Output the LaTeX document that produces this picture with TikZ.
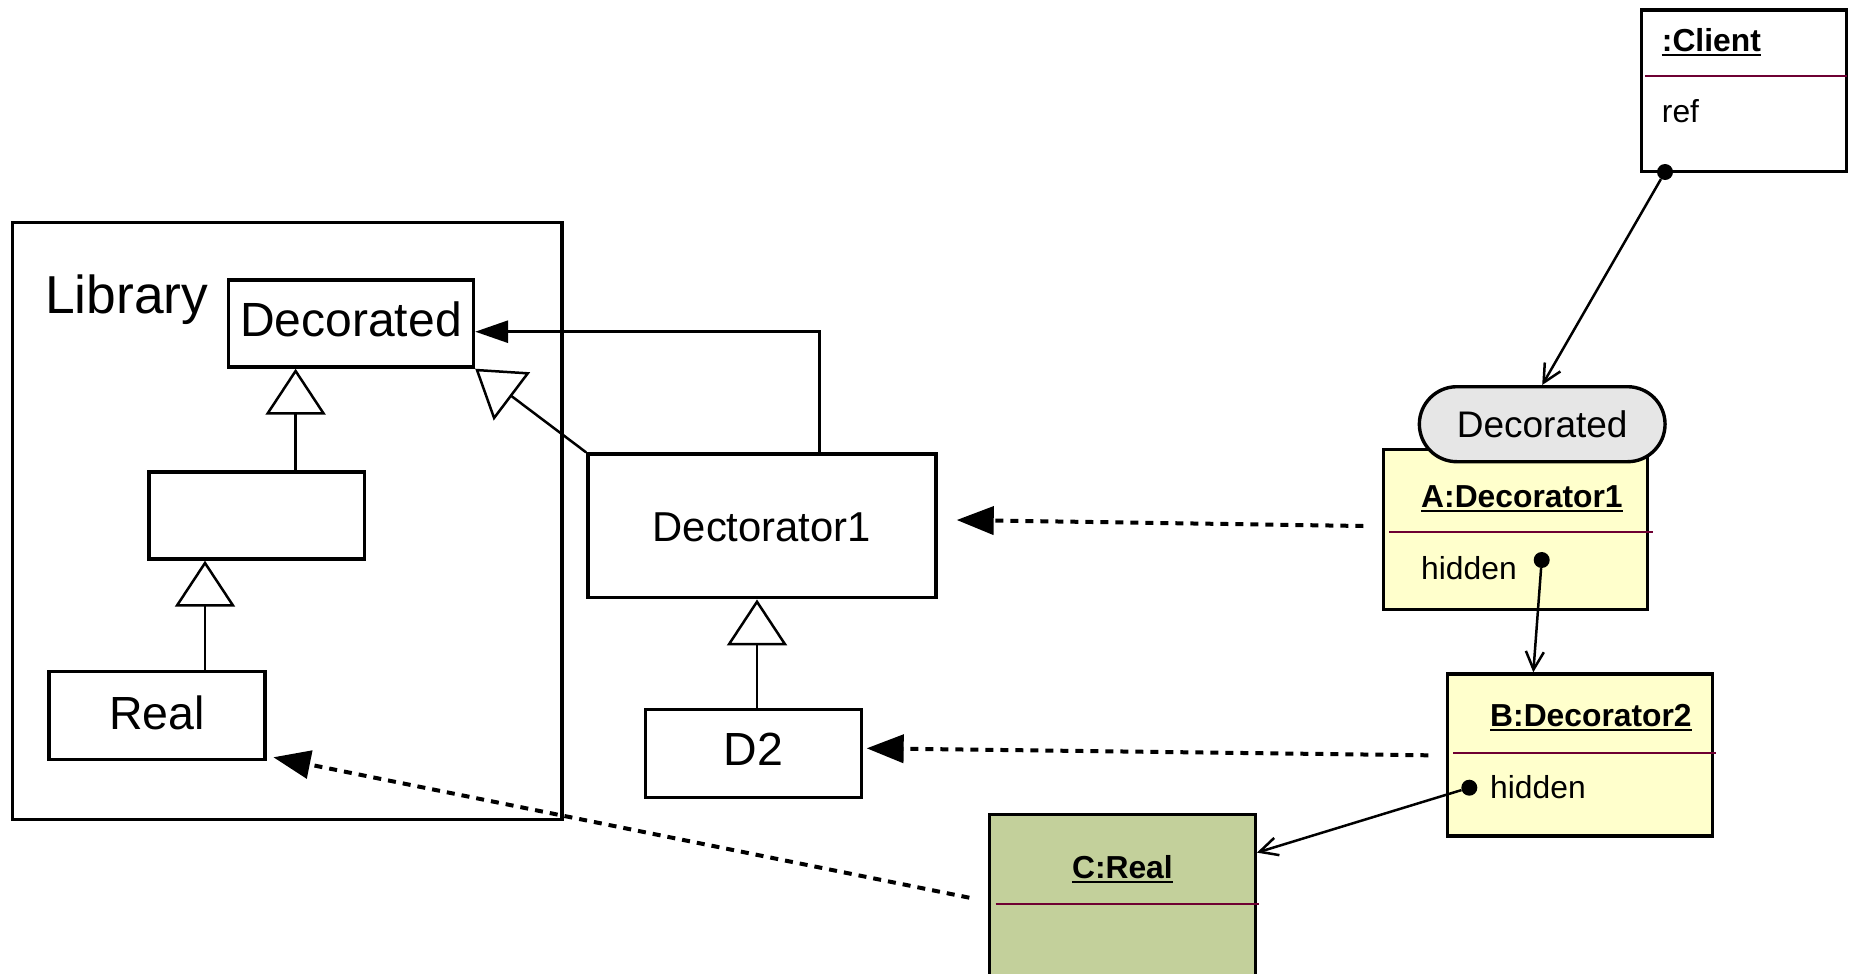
\documentclass[tikz,border=0pt]{standalone}
\usepackage{fontspec}
\setmainfont{Liberation Sans}
\usetikzlibrary{arrows.meta,calc}
\definecolor{objyellow}{RGB}{255,255,204}
\definecolor{objgreen}{RGB}{195,208,155}
\definecolor{pillgray}{RGB}{230,230,230}
\definecolor{divcol}{RGB}{110,0,50}
\begin{document}
\begin{tikzpicture}[x=1pt,y=-1pt,
  umlbox/.style={draw, line width=3.4pt, fill=white, inner sep=0pt},
  libframe/.style={draw, line width=3.5pt, inner sep=0pt},
  objbox/.style={draw, line width=3.4pt, inner sep=0pt},
  gen/.style={line width=2.5pt, -{Triangle[length=46pt,width=60pt,fill=white]}},
  assoc/.style={line width=3pt, -{Triangle[length=33pt,width=22pt]}},
  dep/.style={line width=4pt, dash pattern=on 8pt off 7pt, -{Triangle[length=37pt,width=28pt]}},
  link/.style={line width=2.5pt, -{Straight Barb[length=18pt,width=18pt]}},
  dotnode/.style={circle, fill=black, inner sep=0pt, minimum size=16pt},
  divider/.style={draw=divcol, line width=2pt},
  objtitle/.style={font=\bfseries\fontsize{31.8}{36}\selectfont, anchor=base west, inner sep=0pt},
  objattr/.style={font=\fontsize{31.8}{36}\selectfont, anchor=base west, inner sep=0pt},
  uline/.style={line width=2pt}
]
\useasboundingbox (0,0) rectangle (1849,974);
\clip (0,0) rectangle (1849,974);

% ---------- Library ----------
\node[libframe, minimum width=549.3pt, minimum height=597pt, anchor=north west] (lib) at (10.7,220.7) {};
\node[font=\fontsize{53.4}{60}\selectfont, anchor=base west, inner sep=0pt] (libname) at (45,313.3) {Library};

\node[umlbox, minimum width=245pt, minimum height=87pt, text height=35pt, text depth=10pt,
      font=\fontsize{48}{54}\selectfont] (decd) at (351,323.5) {Decorated};
\node[umlbox, minimum width=215.4pt, minimum height=87pt] (mid) at (256.6,515.5) {};
\node[umlbox, minimum width=215.8pt, minimum height=87.5pt, text height=35pt, text depth=8pt,
      font=\fontsize{46.5}{52}\selectfont] (real) at (156.9,715.5) {Real};

% ---------- Decorators ----------
\node[umlbox, minimum width=348pt, minimum height=143.7pt, text height=35pt, text depth=3.4pt,
      font=\fontsize{41.8}{48}\selectfont] (d1) at (761.8,525.9) {Dectorator1};
\node[umlbox, minimum width=215.7pt, minimum height=88pt, text height=35pt, text depth=11.6pt,
      font=\fontsize{46.5}{52}\selectfont] (d2) at (753.5,753.3) {D2};

% generalizations
\coordinate (g1) at (295.6,0);
\coordinate (g2) at (205,0);
\coordinate (g3) at (757,0);
\draw[gen] (mid.north -| g1) -- (decd.south -| g1);
\draw[gen] (real.north -| g2) -- (mid.south -| g2);
\draw[gen] (d2.north -| g3) -- (d1.south -| g3);
\draw[gen] (d1.north west) -- (decd.south east);

% association Dectorator1 -> Decorated
\coordinate (bend) at (819.3,331.7);
\draw[assoc] (d1.north -| bend) -- (bend) -- (decd.east |- bend);

% ---------- Client ----------
\node[objbox, fill=white, minimum width=205pt, minimum height=161.7pt] (client) at (1744.2,90.85) {};
\node[objtitle] (clientname) at (1661.7,51.7) {:Client};
\draw[uline] ([yshift=-3.5pt]clientname.base west) -- ([yshift=-3.5pt]clientname.base east);
\draw[divider] (1645,76) -- (1846.7,76);
\node[objattr] (clientref) at (1661.7,122.7) {ref};
\node[dotnode] (cdot) at (1665,172) {};

% ---------- A:Decorator1 ----------
\node[objbox, fill=objyellow, minimum width=264.4pt, minimum height=160pt] (aobj) at (1515.5,529.3) {};
\node[objtitle] (aname) at (1421,507.7) {A:Decorator1};
\draw[uline] ([yshift=-3.5pt]aname.base west) -- ([yshift=-3.5pt]aname.base east);
\draw[divider] (1389.3,532.3) -- (1652.7,532.3);
\node[objattr] (ahidden) at (1421,579.3) {hidden};
\node[dotnode] (adot) at (1541.7,560) {};

\node[draw, line width=3.4pt, fill=pillgray, rounded corners=37.5pt, minimum width=245.7pt,
      minimum height=75pt, inner sep=0pt, text height=30pt, text depth=3pt,
      font=\fontsize{37}{42}\selectfont] (pill) at (1542.2,424.2) {Decorated};

% ---------- B:Decorator2 ----------
\node[objbox, fill=objyellow, minimum width=265pt, minimum height=162pt] (bobj) at (1580.2,755) {};
\node[objtitle] (bname) at (1490,726.7) {B:Decorator2};
\draw[uline] ([yshift=-3.5pt]bname.base west) -- ([yshift=-3.5pt]bname.base east);
\draw[divider] (1453.3,752.7) -- (1716,752.7);
\node[objattr] (bhidden) at (1490,798.3) {hidden};
\node[dotnode] (bdot) at (1469.3,787.7) {};

% ---------- C:Real ----------
\node[objbox, fill=objgreen, minimum width=265.6pt, minimum height=175.7pt] (cobj) at (1122.4,902.15) {};
\node[objtitle, anchor=base] (cname) at (1122.4,878.7) {C:Real};
\draw[uline] ([yshift=-3.5pt]cname.base west) -- ([yshift=-3.5pt]cname.base east);
\draw[divider] (995.6,904) -- (1258.7,904);

% ---------- links ----------
\draw[link] (cdot) -- (pill.north);
\draw[link] (adot) -- ($(bobj.north west)+(87.3,0)$);
\draw[link] (bdot) -- ($(cobj.north east)+(0,40)$);

% ---------- dependencies ----------
\draw[dep] ($(aobj.west)+(-18.3,-3.3)$) -- ($(d1.east)+(19.2,-5.9)$);
\draw[dep] ($(bobj.west)+(-17.7,0.3)$) -- ($(d2.east)+(3.6,-5)$);
\draw[dep] ($(cobj.west)+(-18.6,-4.45)$) -- ($(real.south east)+(6.9,-3.7)$);
\end{tikzpicture}
\end{document}
